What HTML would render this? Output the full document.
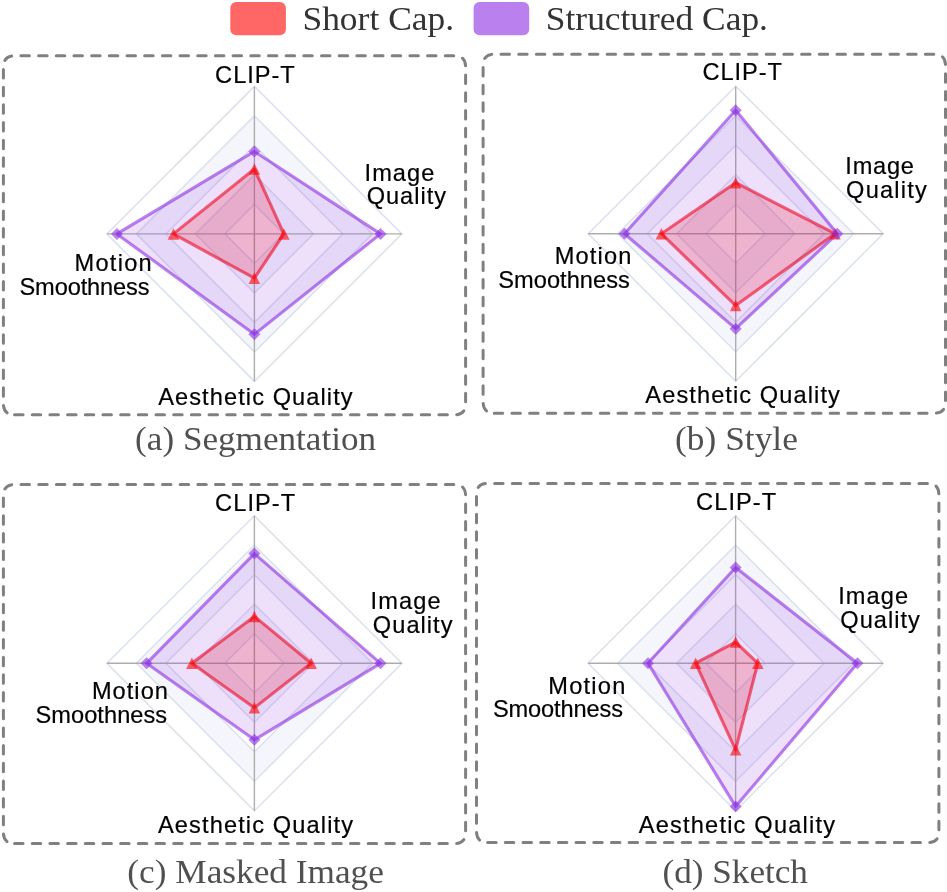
<!DOCTYPE html><html><head><meta charset="utf-8"><title>Radar</title>
<style>html,body{margin:0;padding:0;background:#fff;}svg{display:block;will-change:transform;}text{font-family:"Liberation Sans",sans-serif;}.s{font-family:"Liberation Serif",serif;}</style></head><body>
<svg width="947" height="892" viewBox="0 0 947 892">
<rect width="947" height="892" fill="#fff"/>
<rect x="230.3" y="2.0" width="55.6" height="33.3" rx="6" fill="rgb(255,0,0)" fill-opacity="0.6"/>
<rect x="473.6" y="2.0" width="55.6" height="33.3" rx="6" fill="rgb(138,43,226)" fill-opacity="0.6"/>
<g id="chart-a">
<path d="M14.55 414.80 H454.45 Q465.60 414.80 465.60 403.65 V66.95 Q465.60 55.80 454.45 55.80 H14.55 Q3.40 55.80 3.40 66.95 V403.65 Q3.40 414.80 14.55 414.80 Z" fill="none" stroke="#808080" stroke-width="3.0" stroke-dasharray="8.5 9.18" stroke-linecap="round"/>
<path d="M254.40 115.90 L372.40 233.90 L254.40 351.90 L136.40 233.90Z M254.40 145.40 L342.90 233.90 L254.40 322.40 L165.90 233.90Z" fill="#f5f6fb" fill-rule="evenodd"/>
<path d="M254.40 174.90 L313.40 233.90 L254.40 292.90 L195.40 233.90Z M254.40 204.40 L283.90 233.90 L254.40 263.40 L224.90 233.90Z" fill="#f5f6fb" fill-rule="evenodd"/>
<polygon points="254.40,204.40 283.90,233.90 254.40,263.40 224.90,233.90" fill="none" stroke="#dae0ef" stroke-width="1.5"/>
<polygon points="254.40,174.90 313.40,233.90 254.40,292.90 195.40,233.90" fill="none" stroke="#dae0ef" stroke-width="1.5"/>
<polygon points="254.40,145.40 342.90,233.90 254.40,322.40 165.90,233.90" fill="none" stroke="#dae0ef" stroke-width="1.5"/>
<polygon points="254.40,115.90 372.40,233.90 254.40,351.90 136.40,233.90" fill="none" stroke="#dae0ef" stroke-width="1.5"/>
<polygon points="254.40,86.40 401.90,233.90 254.40,381.40 106.90,233.90" fill="none" stroke="#dae0ef" stroke-width="1.5"/>
<path d="M254.40 86.40V381.40M106.90 233.90H401.90" stroke="#adadad" stroke-width="1.4" fill="none"/>
<polygon points="254.40,169.00 283.90,233.90 254.40,278.15 173.42,233.90" fill="rgb(255,0,0)" fill-opacity="0.2" stroke="none"/>
<polygon points="254.40,169.00 283.90,233.90 254.40,278.15 173.42,233.90" fill="none" stroke="rgb(255,0,0)" stroke-opacity="0.6" stroke-width="3.1" stroke-linejoin="round"/>
<polygon points="254.40,151.45 380.51,233.90 254.40,334.35 116.93,233.90" fill="rgb(138,43,226)" fill-opacity="0.15" stroke="none"/>
<polygon points="254.40,151.45 380.51,233.90 254.40,334.35 116.93,233.90" fill="none" stroke="rgb(138,43,226)" stroke-opacity="0.6" stroke-width="3.1" stroke-linejoin="round"/>
<polygon points="254.40,163.25 248.65,174.75 260.15,174.75" fill="rgb(255,0,0)" fill-opacity="0.6"/>
<polygon points="283.90,228.15 278.15,239.65 289.65,239.65" fill="rgb(255,0,0)" fill-opacity="0.6"/>
<polygon points="254.40,272.40 248.65,283.90 260.15,283.90" fill="rgb(255,0,0)" fill-opacity="0.6"/>
<polygon points="173.42,228.15 167.67,239.65 179.17,239.65" fill="rgb(255,0,0)" fill-opacity="0.6"/>
<polygon points="254.40,145.45 260.40,151.45 254.40,157.45 248.40,151.45" fill="rgb(138,43,226)" fill-opacity="0.6"/>
<polygon points="380.51,227.90 386.51,233.90 380.51,239.90 374.51,233.90" fill="rgb(138,43,226)" fill-opacity="0.6"/>
<polygon points="254.40,328.35 260.40,334.35 254.40,340.35 248.40,334.35" fill="rgb(138,43,226)" fill-opacity="0.6"/>
<polygon points="116.93,227.90 122.93,233.90 116.93,239.90 110.93,233.90" fill="rgb(138,43,226)" fill-opacity="0.6"/>
<text x="215.10" y="82.60" font-size="23.6" fill="#000" stroke="#000" stroke-width="0.2" textLength="79.69" lengthAdjust="spacing">CLIP-T</text>
<text x="364.57" y="180.50" font-size="23.6" fill="#000" stroke="#000" stroke-width="0.2" textLength="69.75" lengthAdjust="spacing">Image</text>
<text x="366.63" y="204.40" font-size="23.6" fill="#000" stroke="#000" stroke-width="0.2" textLength="79.42" lengthAdjust="spacing">Quality</text>
<text x="158.16" y="404.70" font-size="23.6" fill="#000" stroke="#000" stroke-width="0.2" textLength="194.47" lengthAdjust="spacing">Aesthetic Quality</text>
<text x="74.52" y="271.30" font-size="23.6" fill="#000" stroke="#000" stroke-width="0.2" textLength="77.12" lengthAdjust="spacing">Motion</text>
<text x="19.47" y="294.90" font-size="23.6" fill="#000" stroke="#000" stroke-width="0.2" textLength="130.11" lengthAdjust="spacing">Smoothness</text>
</g>
<g id="chart-b">
<path d="M494.25 413.20 H934.35 Q945.50 413.20 945.50 402.05 V65.35 Q945.50 54.20 934.35 54.20 H494.25 Q483.10 54.20 483.10 65.35 V402.05 Q483.10 413.20 494.25 413.20 Z" fill="none" stroke="#808080" stroke-width="3.0" stroke-dasharray="8.5 9.18" stroke-linecap="round"/>
<path d="M735.70 115.70 L853.70 233.70 L735.70 351.70 L617.70 233.70Z M735.70 145.20 L824.20 233.70 L735.70 322.20 L647.20 233.70Z" fill="#f5f6fb" fill-rule="evenodd"/>
<path d="M735.70 174.70 L794.70 233.70 L735.70 292.70 L676.70 233.70Z M735.70 204.20 L765.20 233.70 L735.70 263.20 L706.20 233.70Z" fill="#f5f6fb" fill-rule="evenodd"/>
<polygon points="735.70,204.20 765.20,233.70 735.70,263.20 706.20,233.70" fill="none" stroke="#dae0ef" stroke-width="1.5"/>
<polygon points="735.70,174.70 794.70,233.70 735.70,292.70 676.70,233.70" fill="none" stroke="#dae0ef" stroke-width="1.5"/>
<polygon points="735.70,145.20 824.20,233.70 735.70,322.20 647.20,233.70" fill="none" stroke="#dae0ef" stroke-width="1.5"/>
<polygon points="735.70,115.70 853.70,233.70 735.70,351.70 617.70,233.70" fill="none" stroke="#dae0ef" stroke-width="1.5"/>
<polygon points="735.70,86.20 883.20,233.70 735.70,381.20 588.20,233.70" fill="none" stroke="#dae0ef" stroke-width="1.5"/>
<path d="M735.70 86.20V381.20M588.20 233.70H883.20" stroke="#adadad" stroke-width="1.4" fill="none"/>
<polygon points="735.70,182.66 834.97,233.70 735.70,305.53 661.36,233.70" fill="rgb(255,0,0)" fill-opacity="0.2" stroke="none"/>
<polygon points="735.70,182.66 834.97,233.70 735.70,305.53 661.36,233.70" fill="none" stroke="rgb(255,0,0)" stroke-opacity="0.6" stroke-width="3.1" stroke-linejoin="round"/>
<polygon points="735.70,110.24 837.33,233.70 735.70,328.69 624.49,233.70" fill="rgb(138,43,226)" fill-opacity="0.15" stroke="none"/>
<polygon points="735.70,110.24 837.33,233.70 735.70,328.69 624.49,233.70" fill="none" stroke="rgb(138,43,226)" stroke-opacity="0.6" stroke-width="3.1" stroke-linejoin="round"/>
<polygon points="735.70,176.91 729.95,188.41 741.45,188.41" fill="rgb(255,0,0)" fill-opacity="0.6"/>
<polygon points="834.97,227.95 829.22,239.45 840.72,239.45" fill="rgb(255,0,0)" fill-opacity="0.6"/>
<polygon points="735.70,299.78 729.95,311.28 741.45,311.28" fill="rgb(255,0,0)" fill-opacity="0.6"/>
<polygon points="661.36,227.95 655.61,239.45 667.11,239.45" fill="rgb(255,0,0)" fill-opacity="0.6"/>
<polygon points="735.70,104.24 741.70,110.24 735.70,116.24 729.70,110.24" fill="rgb(138,43,226)" fill-opacity="0.6"/>
<polygon points="837.33,227.70 843.33,233.70 837.33,239.70 831.33,233.70" fill="rgb(138,43,226)" fill-opacity="0.6"/>
<polygon points="735.70,322.69 741.70,328.69 735.70,334.69 729.70,328.69" fill="rgb(138,43,226)" fill-opacity="0.6"/>
<polygon points="624.49,227.70 630.49,233.70 624.49,239.70 618.49,233.70" fill="rgb(138,43,226)" fill-opacity="0.6"/>
<text x="702.52" y="80.20" font-size="23.6" fill="#000" stroke="#000" stroke-width="0.2" textLength="79.32" lengthAdjust="spacing">CLIP-T</text>
<text x="845.36" y="173.50" font-size="23.6" fill="#000" stroke="#000" stroke-width="0.2" textLength="68.59" lengthAdjust="spacing">Image</text>
<text x="846.10" y="197.50" font-size="23.6" fill="#000" stroke="#000" stroke-width="0.2" textLength="80.69" lengthAdjust="spacing">Quality</text>
<text x="645.37" y="402.90" font-size="23.6" fill="#000" stroke="#000" stroke-width="0.2" textLength="194.47" lengthAdjust="spacing">Aesthetic Quality</text>
<text x="554.73" y="264.20" font-size="23.6" fill="#000" stroke="#000" stroke-width="0.2" textLength="76.54" lengthAdjust="spacing">Motion</text>
<text x="498.31" y="287.90" font-size="23.6" fill="#000" stroke="#000" stroke-width="0.2" textLength="131.48" lengthAdjust="spacing">Smoothness</text>
</g>
<g id="chart-c">
<path d="M14.55 843.60 H454.45 Q465.60 843.60 465.60 832.45 V495.65 Q465.60 484.50 454.45 484.50 H14.55 Q3.40 484.50 3.40 495.65 V832.45 Q3.40 843.60 14.55 843.60 Z" fill="none" stroke="#808080" stroke-width="3.0" stroke-dasharray="8.5 9.18" stroke-linecap="round"/>
<path d="M254.40 545.30 L372.40 663.30 L254.40 781.30 L136.40 663.30Z M254.40 574.80 L342.90 663.30 L254.40 751.80 L165.90 663.30Z" fill="#f5f6fb" fill-rule="evenodd"/>
<path d="M254.40 604.30 L313.40 663.30 L254.40 722.30 L195.40 663.30Z M254.40 633.80 L283.90 663.30 L254.40 692.80 L224.90 663.30Z" fill="#f5f6fb" fill-rule="evenodd"/>
<polygon points="254.40,633.80 283.90,663.30 254.40,692.80 224.90,663.30" fill="none" stroke="#dae0ef" stroke-width="1.5"/>
<polygon points="254.40,604.30 313.40,663.30 254.40,722.30 195.40,663.30" fill="none" stroke="#dae0ef" stroke-width="1.5"/>
<polygon points="254.40,574.80 342.90,663.30 254.40,751.80 165.90,663.30" fill="none" stroke="#dae0ef" stroke-width="1.5"/>
<polygon points="254.40,545.30 372.40,663.30 254.40,781.30 136.40,663.30" fill="none" stroke="#dae0ef" stroke-width="1.5"/>
<polygon points="254.40,515.80 401.90,663.30 254.40,810.80 106.90,663.30" fill="none" stroke="#dae0ef" stroke-width="1.5"/>
<path d="M254.40 515.80V810.80M106.90 663.30H401.90" stroke="#adadad" stroke-width="1.4" fill="none"/>
<polygon points="254.40,616.39 311.19,663.30 254.40,707.84 191.86,663.30" fill="rgb(255,0,0)" fill-opacity="0.2" stroke="none"/>
<polygon points="254.40,616.39 311.19,663.30 254.40,707.84 191.86,663.30" fill="none" stroke="rgb(255,0,0)" stroke-opacity="0.6" stroke-width="3.1" stroke-linejoin="round"/>
<polygon points="254.40,553.56 380.51,663.30 254.40,739.85 146.58,663.30" fill="rgb(138,43,226)" fill-opacity="0.15" stroke="none"/>
<polygon points="254.40,553.56 380.51,663.30 254.40,739.85 146.58,663.30" fill="none" stroke="rgb(138,43,226)" stroke-opacity="0.6" stroke-width="3.1" stroke-linejoin="round"/>
<polygon points="254.40,610.64 248.65,622.14 260.15,622.14" fill="rgb(255,0,0)" fill-opacity="0.6"/>
<polygon points="311.19,657.55 305.44,669.05 316.94,669.05" fill="rgb(255,0,0)" fill-opacity="0.6"/>
<polygon points="254.40,702.09 248.65,713.59 260.15,713.59" fill="rgb(255,0,0)" fill-opacity="0.6"/>
<polygon points="191.86,657.55 186.11,669.05 197.61,669.05" fill="rgb(255,0,0)" fill-opacity="0.6"/>
<polygon points="254.40,547.56 260.40,553.56 254.40,559.56 248.40,553.56" fill="rgb(138,43,226)" fill-opacity="0.6"/>
<polygon points="380.51,657.30 386.51,663.30 380.51,669.30 374.51,663.30" fill="rgb(138,43,226)" fill-opacity="0.6"/>
<polygon points="254.40,733.85 260.40,739.85 254.40,745.85 248.40,739.85" fill="rgb(138,43,226)" fill-opacity="0.6"/>
<polygon points="146.58,657.30 152.58,663.30 146.58,669.30 140.58,663.30" fill="rgb(138,43,226)" fill-opacity="0.6"/>
<text x="215.10" y="510.70" font-size="23.6" fill="#000" stroke="#000" stroke-width="0.2" textLength="80.06" lengthAdjust="spacing">CLIP-T</text>
<text x="370.62" y="608.50" font-size="23.6" fill="#000" stroke="#000" stroke-width="0.2" textLength="70.12" lengthAdjust="spacing">Image</text>
<text x="372.84" y="632.60" font-size="23.6" fill="#000" stroke="#000" stroke-width="0.2" textLength="79.63" lengthAdjust="spacing">Quality</text>
<text x="157.95" y="833.40" font-size="23.6" fill="#000" stroke="#000" stroke-width="0.2" textLength="195.05" lengthAdjust="spacing">Aesthetic Quality</text>
<text x="91.94" y="699.00" font-size="23.6" fill="#000" stroke="#000" stroke-width="0.2" textLength="75.96" lengthAdjust="spacing">Motion</text>
<text x="35.52" y="722.70" font-size="23.6" fill="#000" stroke="#000" stroke-width="0.2" textLength="131.59" lengthAdjust="spacing">Smoothness</text>
</g>
<g id="chart-d">
<path d="M487.65 842.60 H927.75 Q938.90 842.60 938.90 831.45 V494.55 Q938.90 483.40 927.75 483.40 H487.65 Q476.50 483.40 476.50 494.55 V831.45 Q476.50 842.60 487.65 842.60 Z" fill="none" stroke="#808080" stroke-width="3.0" stroke-dasharray="8.5 9.18" stroke-linecap="round"/>
<path d="M735.60 545.20 L853.60 663.20 L735.60 781.20 L617.60 663.20Z M735.60 574.70 L824.10 663.20 L735.60 751.70 L647.10 663.20Z" fill="#f5f6fb" fill-rule="evenodd"/>
<path d="M735.60 604.20 L794.60 663.20 L735.60 722.20 L676.60 663.20Z M735.60 633.70 L765.10 663.20 L735.60 692.70 L706.10 663.20Z" fill="#f5f6fb" fill-rule="evenodd"/>
<polygon points="735.60,633.70 765.10,663.20 735.60,692.70 706.10,663.20" fill="none" stroke="#dae0ef" stroke-width="1.5"/>
<polygon points="735.60,604.20 794.60,663.20 735.60,722.20 676.60,663.20" fill="none" stroke="#dae0ef" stroke-width="1.5"/>
<polygon points="735.60,574.70 824.10,663.20 735.60,751.70 647.10,663.20" fill="none" stroke="#dae0ef" stroke-width="1.5"/>
<polygon points="735.60,545.20 853.60,663.20 735.60,781.20 617.60,663.20" fill="none" stroke="#dae0ef" stroke-width="1.5"/>
<polygon points="735.60,515.70 883.10,663.20 735.60,810.70 588.10,663.20" fill="none" stroke="#dae0ef" stroke-width="1.5"/>
<path d="M735.60 515.70V810.70M588.10 663.20H883.10" stroke="#adadad" stroke-width="1.4" fill="none"/>
<polygon points="735.60,642.11 757.73,663.20 735.60,749.78 695.63,663.20" fill="rgb(255,0,0)" fill-opacity="0.2" stroke="none"/>
<polygon points="735.60,642.11 757.73,663.20 735.60,749.78 695.63,663.20" fill="none" stroke="rgb(255,0,0)" stroke-opacity="0.6" stroke-width="3.1" stroke-linejoin="round"/>
<polygon points="735.60,567.47 857.44,663.20 735.60,806.42 647.99,663.20" fill="rgb(138,43,226)" fill-opacity="0.15" stroke="none"/>
<polygon points="735.60,567.47 857.44,663.20 735.60,806.42 647.99,663.20" fill="none" stroke="rgb(138,43,226)" stroke-opacity="0.6" stroke-width="3.1" stroke-linejoin="round"/>
<polygon points="735.60,636.36 729.85,647.86 741.35,647.86" fill="rgb(255,0,0)" fill-opacity="0.6"/>
<polygon points="757.73,657.45 751.98,668.95 763.48,668.95" fill="rgb(255,0,0)" fill-opacity="0.6"/>
<polygon points="735.60,744.03 729.85,755.53 741.35,755.53" fill="rgb(255,0,0)" fill-opacity="0.6"/>
<polygon points="695.63,657.45 689.88,668.95 701.38,668.95" fill="rgb(255,0,0)" fill-opacity="0.6"/>
<polygon points="735.60,561.47 741.60,567.47 735.60,573.47 729.60,567.47" fill="rgb(138,43,226)" fill-opacity="0.6"/>
<polygon points="857.44,657.20 863.44,663.20 857.44,669.20 851.44,663.20" fill="rgb(138,43,226)" fill-opacity="0.6"/>
<polygon points="735.60,800.42 741.60,806.42 735.60,812.42 729.60,806.42" fill="rgb(138,43,226)" fill-opacity="0.6"/>
<polygon points="647.99,657.20 653.99,663.20 647.99,669.20 641.99,663.20" fill="rgb(138,43,226)" fill-opacity="0.6"/>
<text x="696.10" y="510.20" font-size="23.6" fill="#000" stroke="#000" stroke-width="0.2" textLength="80.06" lengthAdjust="spacing">CLIP-T</text>
<text x="838.20" y="603.60" font-size="23.6" fill="#000" stroke="#000" stroke-width="0.2" textLength="69.91" lengthAdjust="spacing">Image</text>
<text x="840.26" y="627.90" font-size="23.6" fill="#000" stroke="#000" stroke-width="0.2" textLength="79.58" lengthAdjust="spacing">Quality</text>
<text x="638.74" y="833.10" font-size="23.6" fill="#000" stroke="#000" stroke-width="0.2" textLength="196.26" lengthAdjust="spacing">Aesthetic Quality</text>
<text x="548.36" y="693.60" font-size="23.6" fill="#000" stroke="#000" stroke-width="0.2" textLength="76.91" lengthAdjust="spacing">Motion</text>
<text x="492.89" y="716.90" font-size="23.6" fill="#000" stroke="#000" stroke-width="0.2" textLength="130.11" lengthAdjust="spacing">Smoothness</text>
</g>
<text class="s" x="302.41" y="29.50" font-size="34.7" fill="#333" textLength="151.76" lengthAdjust="spacingAndGlyphs">Short Cap.</text>
<text class="s" x="545.83" y="29.50" font-size="34.7" fill="#333" textLength="222.13" lengthAdjust="spacingAndGlyphs">Structured Cap.</text>
<text class="s" x="135.10" y="449.60" font-size="34.3" fill="#505050" textLength="241.06" lengthAdjust="spacingAndGlyphs">(a) Segmentation</text>
<text class="s" x="675.10" y="449.80" font-size="34.3" fill="#505050" textLength="122.75" lengthAdjust="spacingAndGlyphs">(b) Style</text>
<text class="s" x="127.36" y="882.90" font-size="34.3" fill="#505050" textLength="256.49" lengthAdjust="spacingAndGlyphs">(c) Masked Image</text>
<text class="s" x="662.57" y="882.90" font-size="34.3" fill="#505050" textLength="145.38" lengthAdjust="spacingAndGlyphs">(d) Sketch</text>
</svg></body></html>
